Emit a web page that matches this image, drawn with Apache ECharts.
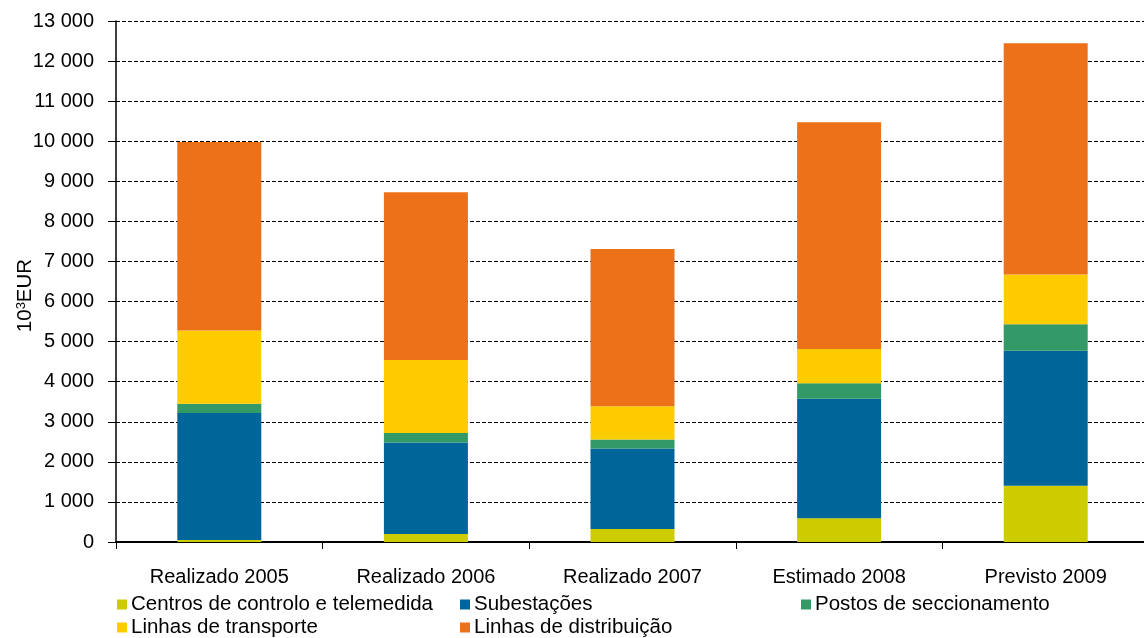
<!DOCTYPE html>
<html>
<head>
<meta charset="utf-8">
<script src="https://cdn.jsdelivr.net/npm/echarts@6/dist/echarts.min.js"></script>
<style>
  html, body { margin: 0; padding: 0; background: #fff; }
  #chart { width: 1144px; height: 638px; }
</style>
</head>
<body>
<div id="chart"></div>
<script>
// Investment by type of asset, 10^3 EUR
const categories = ['Realizado 2005', 'Realizado 2006', 'Realizado 2007', 'Estimado 2008', 'Previsto 2009'];
const centros      = [50, 200, 325, 590, 1405];
const subestacoes  = [3170, 2280, 2005, 2985, 3365];
const postos       = [230, 240, 230, 385, 665];
const transporte   = [1830, 1820, 825, 855, 1240];
const distribuicao = [4700, 4190, 3925, 5660, 5770];
const yTicks = { min: 0, max: 13000, interval: 1000 };

const names = [
  'Centros de controlo e telemedida',
  'Subestações',
  'Postos de seccionamento',
  'Linhas de transporte',
  'Linhas de distribuição'
];
const colors = ['#CCCC00', '#006699', '#339966', '#FFCC00', '#EC7118'];
const values = [centros, subestacoes, postos, transporte, distribuicao];

const FONT = 'Liberation Sans, Arial, sans-serif';
const fmt = v => String(v).replace(/\B(?=(\d{3})+(?!\d))/g, ' ');

const legendPos = [
  { left: 117, top: 594 },
  { left: 460, top: 594 },
  { left: 801, top: 594 },
  { left: 117, top: 617 },
  { left: 460, top: 617 }
];

const chart = echarts.init(document.getElementById('chart'), null, { renderer: 'canvas' });
chart.setOption({
  animation: false,
  backgroundColor: '#fff',
  grid: { left: 116, top: 21, width: 1033, bottom: 96, containLabel: false, outerBoundsMode: 'none' },
  legend: names.map((n, i) => ({
    data: [n],
    left: legendPos[i].left,
    top: legendPos[i].top,
    padding: 0,
    icon: 'rect',
    itemWidth: 10,
    itemHeight: 10,
    itemGap: 5,
    textStyle: { fontFamily: FONT, fontSize: 20.5, color: '#000', padding: [0, 0, 0, -1] }
  })),
  xAxis: {
    type: 'category',
    data: categories,
    axisLine: { lineStyle: { color: '#000', width: 2 } },
    axisTick: { show: true, length: 7, inside: false, lineStyle: { color: '#000', width: 1 } },
    axisLabel: { fontFamily: FONT, fontSize: 20, color: '#000', margin: 25 },
    splitLine: { show: false }
  },
  yAxis: {
    type: 'value',
    min: yTicks.min,
    max: yTicks.max,
    interval: yTicks.interval,
    name: '{b|10}{s|3}{b|EUR}',
    nameLocation: 'middle',
    nameGap: 80,
    nameMoveOverlap: false,
    nameRotate: 90,
    nameTextStyle: {
      padding: [0, 28, 0, 0],
      rich: {
        b: { fontFamily: FONT, fontSize: 20.5, color: '#000' },
        s: { fontFamily: FONT, fontSize: 13, color: '#000', verticalAlign: 'top', padding: [0, 0, 8, 0] }
      }
    },
    axisLine: { show: true, lineStyle: { color: '#000', width: 1.5 } },
    axisTick: { show: true, length: 8, lineStyle: { color: '#000', width: 1 } },
    axisLabel: { fontFamily: FONT, fontSize: 20, color: '#000', margin: 22, formatter: fmt },
    splitLine: { show: true, lineStyle: { color: '#000', width: 1, type: [4, 2] } }
  },
  series: names.map((n, i) => ({
    name: n,
    type: 'bar',
    stack: 'total',
    barWidth: 84,
    itemStyle: { color: colors[i] },
    data: values[i]
  }))
});
</script>
</body>
</html>
